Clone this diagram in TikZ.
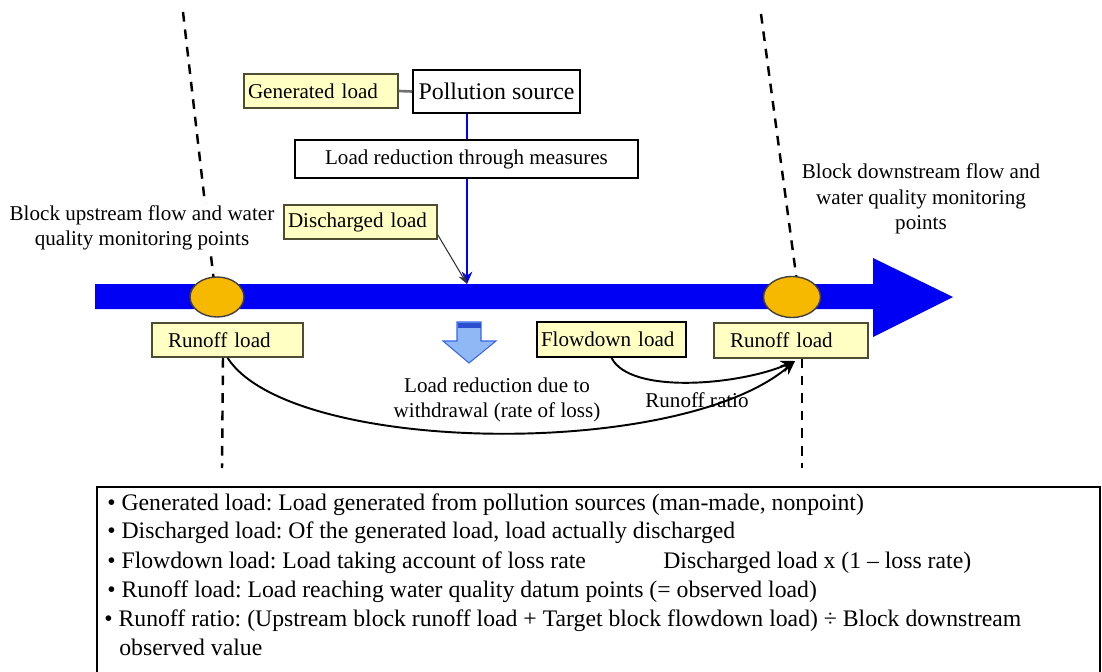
\documentclass[tikz,border=0pt]{standalone}
\usepackage{fontspec}
\setmainfont{Liberation Serif}
\usetikzlibrary{shapes.geometric,arrows.meta}
\definecolor{lblyellow}{HTML}{FFFFC4}
\definecolor{lbledge}{HTML}{4D4D33}
\definecolor{river}{HTML}{0000F5}
\definecolor{gauge}{HTML}{F7B800}
\definecolor{wdfill}{HTML}{8FB8F5}
\definecolor{wdedge}{HTML}{3A66E6}
\definecolor{wdtop}{HTML}{2A4FD0}
\definecolor{connGray}{HTML}{707070}
\tikzset{
  lbl/.style={draw=lbledge, line width=0.9pt, fill=lblyellow, inner ysep=0pt, inner xsep=0.08cm,
    minimum height=0.68cm, align=left, font=\fontsize{12}{14}\selectfont},
  runoffbox/.style={lbl, inner xsep=0.32cm},
  whitebox/.style={draw=black, line width=0.9pt, fill=white, inner sep=0pt, align=center},
  plain/.style={align=center, inner sep=1pt, font=\fontsize{12}{14.6}\selectfont},
  gaugept/.style={ellipse, draw=black!75, line width=0.8pt, fill=gauge, inner sep=0pt},
  monline/.style={draw=black, line width=1.4pt, dash pattern=on 5.5pt off 4.5pt},
  bul/.style={anchor=base west, inner sep=0pt, font=\fontsize{13.5}{16}\selectfont},
}
\begin{document}
\frenchspacing
\begin{tikzpicture}[x=0.02cm, y=-0.02cm]
\useasboundingbox (0,0) rectangle (1102,672);

% monitoring lines (dashed)
\coordinate (lt) at (183,12);
\coordinate (lm) at (214,282);
\coordinate (lb1) at (223,358);
\coordinate (lb2) at (222,468);
\coordinate (rt) at (761,14);
\coordinate (rm) at (797,282);
\coordinate (rb1) at (802,358);
\coordinate (rb2) at (802,468);
\draw[monline] (lt) -- (lm);
\draw[monline] (lb1) -- (lb2);
\draw[monline] (rt) -- (rm);
\draw[monline] (rb1) -- (rb2);

% river
\fill[river] (95,284) -- (873,284) -- (873,258) -- (953,297) -- (873,337) -- (873,309) -- (95,309) -- cycle;

% gauge points
\node[gaugept, minimum width=1.08cm, minimum height=0.8cm] (gl) at (217,297) {};
\node[gaugept, minimum width=1.14cm, minimum height=0.82cm] (gr) at (792,297) {};

% pollution source and vertical discharge
\node[whitebox, minimum width=3.34cm, minimum height=0.86cm, font=\fontsize{13.6}{16}\selectfont] (pol) at (496.5,91.5) {Pollution source};
\coordinate (drop) at (467,284);
\draw[blue, line width=1.3pt, -{Stealth[length=7pt,width=6pt]}] (drop |- pol.south) -- (drop);
\node[whitebox, minimum width=6.86cm, minimum height=0.76cm, font=\fontsize{12}{14}\selectfont] (red) at (466.5,159) {Load reduction through measures};

\node[lbl, text width=2.92cm] (gen) at (321,91) {Generated load};
\draw[connGray, line width=1.5pt] (gen.east) -- (pol.west);

\node[lbl, text width=2.90cm] (dis) at (360.5,222) {Discharged load};
\draw[black!80, line width=0.6pt, -{Stealth[length=6pt,width=4pt]}] ([yshift=0.1cm]dis.south east) -- (drop);

% labels below river
\node[runoffbox, text width=2.38cm] (rl) at (227.5,340) {Runoff load};
\node[lbl, draw=black, text width=2.82cm, minimum height=0.7cm] (fd) at (611.5,339.5) {Flowdown load};
\node[runoffbox, text width=2.44cm, minimum height=0.7cm] (rr) at (791,340.5) {Runoff load};

% withdrawal arrow
\filldraw[fill=wdfill, draw=wdedge, line width=0.6pt] (457,322) -- (481,322) -- (481,341) -- (496,341) -- (469,363) -- (443,341) -- (457,341) -- cycle;
\fill[wdtop] (457.5,322.5) rectangle (480.5,328);

% curves
\coordinate (tip) at (795,361);
\draw[line width=1.1pt, -{Stealth[length=8pt,width=7pt]}] (fd.south) .. controls (630,395) and (740,385) .. (tip);
\draw[line width=1.1pt, -{Stealth[length=8pt,width=7pt]}] (rl.south) .. controls (290,455) and (680,460) .. (tip);

% texts
\node[plain, fill=white] (up) at (142,228) {Block upstream flow and water\\quality monitoring points};
\node[plain] (down) at (921,199) {Block downstream flow and\\water quality monitoring\\points};
\node[plain] (wd) at (497,400) {Load reduction due to\\withdrawal (rate of loss)};
\node[plain] (rat) at (697,400) {Runoff ratio};

% legend box
\draw[line width=0.9pt] (97,680) -- (97,487) -- (1100,487) -- (1100,680);
\node[bul] (b1) at (107,510) {• Generated load: Load generated from pollution sources (man-made, nonpoint)};
\node[bul] (b2) at (107,538) {• Discharged load: Of the generated load, load actually discharged};
\node[bul] (b3) at (107,568) {• Flowdown load: Load taking account of loss rate};
\node[bul] (b3r) at (663,568) {Discharged load x (1 – loss rate)};
\node[bul] (b4) at (107,597) {• Runoff load: Load reaching water quality datum points (= observed load)};
\node[bul] (b5) at (104,626) {• Runoff ratio: (Upstream block runoff load + Target block flowdown load) ÷ Block downstream};
\node[bul] (b6) at (119,655) {observed value};
\end{tikzpicture}
\end{document}
